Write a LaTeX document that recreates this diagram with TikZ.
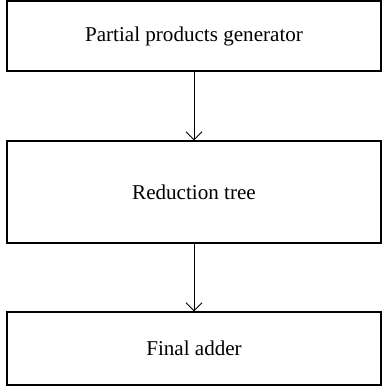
\documentclass[tikz,border=0pt]{standalone}
\usepackage{fontspec}
\setmainfont{Liberation Serif}
\usetikzlibrary{arrows.meta}
\tikzset{
	block/.style={draw, line width=0.8pt, minimum width=7.48cm, align=center, font=\fontsize{12}{14}\selectfont},
	flow/.style={line width=0.5pt, -{Straight Barb[length=1.6mm, width=3.2mm]}}
}
\begin{document}
\begin{tikzpicture}
			%%%%% START %%%%%
			
			\useasboundingbox (0, 0) rectangle (7.64, 7.8);
			
			\node[block, minimum height=1.4cm] (gen) at (3.88, 7.08) {Partial products generator};
			\node[block, minimum height=2.04cm] (tree) at (3.88, 3.96) {Reduction tree};
			\node[block, minimum height=1.46cm] (adder) at (3.88, 0.83) {Final adder};
			
			\draw[flow] (gen) -- (tree);
			\draw[flow] (tree) -- (adder);
			
			%%%%% END %%%%%
		\end{tikzpicture}
\end{document}
